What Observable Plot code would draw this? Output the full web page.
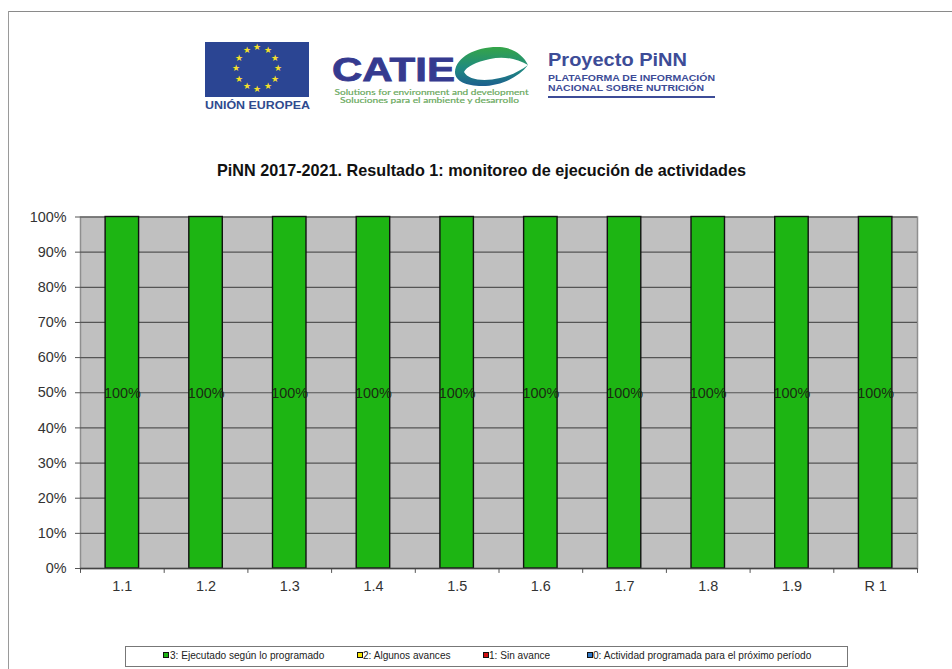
<!DOCTYPE html>
<html><head><meta charset="utf-8">
<script src="https://cdn.jsdelivr.net/npm/d3@7"></script>
<script src="https://cdn.jsdelivr.net/npm/@observablehq/plot@0.6"></script>
<style>
html,body{margin:0;padding:0;background:#fff;}
#page{position:relative;width:952px;height:669px;overflow:hidden;font-family:"Liberation Sans",Arial,sans-serif;}
#frameT{position:absolute;left:8px;top:11px;right:0;height:1px;background:#8a8a8a;}
#frameL{position:absolute;left:8px;top:11px;bottom:0;width:1px;background:#9a9a9a;}
#logos{position:absolute;left:0;top:0;}
#title{position:absolute;left:0;width:963px;top:160px;text-align:center;font-weight:bold;font-size:16.2px;line-height:20px;color:#111;}
#chart{position:absolute;left:0;top:200px;}
#legend{position:absolute;left:125px;top:646px;width:723px;height:21px;box-sizing:border-box;border:1px solid #777;background:#fff;font-size:10.1px;color:#222;}
#legend span.t{position:absolute;top:2px;white-space:nowrap;line-height:13px;}
#legend i{position:absolute;top:5px;width:4px;height:4px;border:1px solid #111;}
</style></head>
<body><div id="page">
<div id="frameT"></div><div id="frameL"></div>
<svg id="logos" width="952" height="130" font-family="'Liberation Sans',Arial,sans-serif">
  <defs><linearGradient id="sw" x1="0" y1="0" x2="0" y2="1"><stop offset="0" stop-color="#35a548"/><stop offset="0.55" stop-color="#1f8a80"/><stop offset="1" stop-color="#1d5f8f"/></linearGradient></defs>
  <rect x="205" y="42" width="104" height="55" fill="#2b4593"/>
  <g id="stars" fill="#f5e02a" font-size="9" text-anchor="middle"></g>
  <text x="205" y="109" font-size="11" font-weight="bold" fill="#2f4a8e" textLength="105" lengthAdjust="spacingAndGlyphs">UNIÓN EUROPEA</text>
  <text x="332" y="80.5" font-size="33" font-weight="bold" fill="#353a8f" stroke="#353a8f" stroke-width="0.8" textLength="123" lengthAdjust="spacingAndGlyphs">CATIE</text>
  <path d="M455 72 C456 56 478 46 500 47 C514 48 524 56 528 65 C516 58 502 56 490 59 C476 62 466 67 464 72 C468 80 484 82 500 78 C510 76 520 71 528 65 C518 78 500 86 482 86 C466 86 455 81 455 72 Z" fill="url(#sw)"/>
  <text x="431.5" y="94.8" font-size="7.2" text-anchor="middle" fill="#67a85a" stroke="#67a85a" stroke-width="0.15" font-family="Lato,sans-serif" textLength="194" lengthAdjust="spacingAndGlyphs">Solutions for environment and development</text>
  <text x="429.5" y="103.4" font-size="7.2" text-anchor="middle" fill="#67a85a" stroke="#67a85a" stroke-width="0.15" font-family="Lato,sans-serif" textLength="179" lengthAdjust="spacingAndGlyphs">Soluciones para el ambiente y desarrollo</text>
  <text x="548" y="65.5" font-size="18" font-weight="bold" fill="#3d4c97" textLength="139" lengthAdjust="spacingAndGlyphs">Proyecto PiNN</text>
  <text x="548" y="81" font-size="9.6" font-weight="bold" fill="#3d4c97" textLength="167" lengthAdjust="spacingAndGlyphs">PLATAFORMA DE INFORMACIÓN</text>
  <text x="548" y="91" font-size="9.6" font-weight="bold" fill="#3d4c97" textLength="156" lengthAdjust="spacingAndGlyphs">NACIONAL SOBRE NUTRICIÓN</text>
  <rect x="548" y="96" width="167" height="2" fill="#3d4c97"/>
</svg>
<div id="title">PiNN 2017-2021. Resultado 1: monitoreo de ejecución de actividades</div>
<div id="chart"></div>
<div id="legend"></div>
</div>
<script>
const categories = ["1.1","1.2","1.3","1.4","1.5","1.6","1.7","1.8","1.9","R 1"];
const executed = [1,1,1,1,1,1,1,1,1,1];
const someProgress = [0,0,0,0,0,0,0,0,0,0];
const noProgress = [0,0,0,0,0,0,0,0,0,0];
const nextPeriod = [0,0,0,0,0,0,0,0,0,0];
const seriesNames = ["3: Ejecutado según lo programado","2: Algunos avances","1: Sin avance","0: Actividad programada para el próximo período"];
const seriesColors = ["#1db513","#f7e600","#d01010","#2f78c8"];
const seriesValues = [executed, someProgress, noProgress, nextPeriod];
const yTicks = [0,.1,.2,.3,.4,.5,.6,.7,.8,.9,1];

const rows = seriesNames.flatMap((s,i)=>categories.map((c,j)=>({category:c,series:s,value:seriesValues[i][j]})));
const shown = rows.filter(d=>d.value>0);

const W = 952, mL = 80, mR = 35;
const step = (W-mL-mR)/categories.length;

const chart = Plot.plot({
  width:W, height:410,
  marginLeft:mL, marginRight:mR, marginTop:16.5, marginBottom:42,
  style:{fontFamily:"'Liberation Sans',Arial,sans-serif",background:"transparent"},
  x:{domain:categories,paddingInner:0.6,paddingOuter:0.3,round:false,label:null,axis:null},
  y:{domain:[0,1],label:null,axis:null},
  color:{domain:seriesNames,range:seriesColors},
  marks:[
    Plot.frame({fill:"#c0c0c0",stroke:"#8f8f8f",strokeWidth:1.5}),
    Plot.ruleY(yTicks,{stroke:"#555",strokeWidth:1.2}),
    Plot.barY(shown,Plot.stackY({x:"category",y:"value",fill:"series",stroke:"#111",strokeWidth:1.4,order:seriesNames})),
    Plot.text(shown,Plot.stackY({x:"category",y:"value",text:d=>d3.format(".0%")(d.value),fontSize:14.4,dy:1,fill:"#1a2a12"})),
    Plot.ruleX([0],{stroke:"#555",strokeWidth:1.4}),
    Plot.axisY({ticks:yTicks,tickFormat:d3.format(".0%"),tickSize:5,tickPadding:9,fontSize:14.4,color:"#333",stroke:"#555",label:null}),
    Plot.axisX({tickSize:0,tickPadding:12,fontSize:14.4,color:"#333",label:null}),
    Plot.ruleX(categories,{x:d=>d,y1:0,y2:-0.014,dx:step/2,stroke:"#555"}),
    Plot.ruleX(categories.slice(0,1),{x:d=>d,y1:0,y2:-0.014,dx:-step/2,stroke:"#555"}),
    Plot.ruleY([0],{stroke:"#444",strokeWidth:1.4})
  ]
});
document.getElementById("chart").appendChild(chart);

// legend
const legendX = [[38,45],[232,238],[358,364],[462,468]];
const legend = document.getElementById("legend");
seriesNames.forEach((s,i)=>{
  const sw=document.createElement("i");
  sw.style.left=(legendX[i][0]-1)+"px"; sw.style.background=seriesColors[i];
  const t=document.createElement("span"); t.className="t";
  t.style.left=legendX[i][1]-1+"px"; t.textContent=s;
  legend.append(sw,t);
});

// EU stars
const g=document.getElementById("stars");
d3.range(12).forEach(i=>{
  const a=i*Math.PI/6;
  const t=document.createElementNS("http://www.w3.org/2000/svg","text");
  t.setAttribute("x",257+21*Math.sin(a)); t.setAttribute("y",68-21*Math.cos(a)+3);
  t.textContent="★"; g.appendChild(t);
});
</script>
</body></html>
